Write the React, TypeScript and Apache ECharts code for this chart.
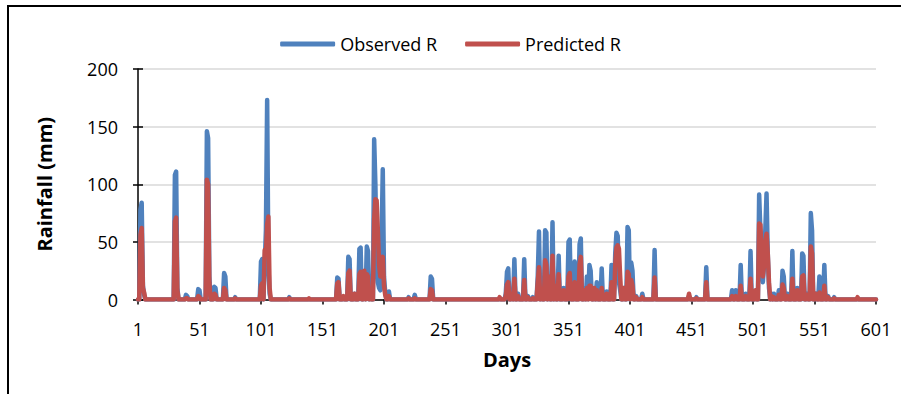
import React, { useEffect, useRef } from "react";
import * as echarts from "echarts";

const dayCount = 601;
const labelStep = 50;
const yMin = 0;
const yMax = 200;
const yStep = 50;
const seriesNames = ["Observed R", "Predicted R"];

// Days with non-zero rainfall (all other days are 0)
const eventDays = [
  3, 4, 5, 6, 31, 32, 33, 40, 41, 50, 51, 57, 58, 59, 63, 64, 71, 72, 80,
  101, 102, 104, 105, 106, 107, 108, 124, 140, 163, 164, 168, 172, 173, 177,
  181, 182, 185, 187, 188, 190, 193, 194, 195, 196, 197, 198, 199, 200, 201,
  202, 205, 221, 226, 239, 240, 295, 300, 301, 302, 305, 307, 310, 315, 318,
  322, 326, 327, 329, 332, 333, 335, 338, 340, 343, 347, 351, 352, 356, 360,
  361, 364, 366, 368, 369, 372, 374, 378, 382, 386, 389, 390, 391, 392, 393,
  396, 399, 400, 402, 403, 406, 411, 421, 449, 455, 463, 484, 487, 491, 495,
  499, 503, 506, 507, 508, 509, 510, 511, 512, 513, 514, 516, 518, 522, 525,
  526, 529, 533, 537, 541, 542, 545, 548, 549, 552, 555, 559, 562, 567, 586,
];
const observedAtEvents = [
  78, 84, 12, 4, 108, 111, 10, 4, 3, 9, 8, 146, 140, 20, 11, 10, 23, 20, 2,
  33, 35, 30, 60, 173, 30, 5, 2, 0, 19, 18, 2, 37, 35, 5,
  44, 45, 20, 46, 42, 5, 139, 100, 30, 15, 10, 8, 50, 113, 20,
  6, 7, 2, 4, 20, 18, 1, 5, 24, 27, 8, 35, 5, 35, 3,
  2, 20, 59, 5, 60, 58, 15, 67, 10, 38, 10, 50, 52, 33, 48,
  53, 10, 20, 30, 25, 8, 15, 27, 7, 30, 40, 58, 55, 15, 8,
  10, 63, 60, 32, 25, 3, 5, 43, 3, 2, 28, 8, 8, 30, 5,
  42, 5, 91, 60, 25, 15, 30, 60, 92, 40, 10, 5, 5, 8, 25,
  20, 5, 42, 10, 40, 38, 5, 75, 60, 5, 20, 30, 3, 2, 1,
];
const predictedAtEvents = [
  56, 62, 10, 6, 68, 71, 8, 1, 1, 3, 2, 104, 100, 15, 5, 4, 10, 8, 1,
  12, 14, 43, 40, 65, 72, 10, 1, 1, 14, 15, 3, 23, 25, 5,
  22, 24, 25, 22, 20, 6, 70, 87, 86, 60, 30, 20, 30, 37, 12,
  4, 3, 1, 1, 9, 8, 2, 3, 13, 15, 5, 18, 3, 17, 2,
  1, 15, 28, 8, 34, 30, 20, 38, 12, 22, 8, 20, 23, 15, 30,
  37, 8, 10, 12, 12, 10, 8, 10, 5, 15, 30, 45, 47, 44, 20,
  10, 24, 22, 17, 12, 2, 2, 19, 5, 1, 15, 3, 3, 12, 3,
  18, 8, 66, 65, 40, 20, 30, 50, 57, 40, 15, 3, 2, 4, 13,
  10, 3, 18, 8, 20, 21, 4, 46, 40, 5, 6, 12, 2, 1, 2,
];

const FONT = "'Open Sans', 'Noto Sans', sans-serif";

export default function App() {
  const ref = useRef<HTMLDivElement>(null);

  useEffect(() => {
    if (!ref.current) return;
    const chart = echarts.init(ref.current, null, { renderer: "svg" });

    const days = Array.from({ length: dayCount }, (_, i) => String(i + 1));
    const observed = new Array(dayCount).fill(0);
    const predicted = new Array(dayCount).fill(0);
    eventDays.forEach((d, i) => {
      observed[d - 1] = observedAtEvents[i];
      predicted[d - 1] = predictedAtEvents[i];
    });

    const axisColor = "#000";

    chart.setOption({
      animation: false,
      textStyle: { fontFamily: FONT },
      graphic: [
        {
          type: "rect",
          silent: true,
          z: -10,
          shape: { x: 8, y: 6, width: 1000, height: 1000 },
          style: { fill: "none", stroke: "#000", lineWidth: 2 },
        },
      ],
      legend: {
        data: seriesNames,
        top: 30,
        left: "center",
        itemWidth: 55,
        itemHeight: 5,
        itemGap: 28,
        icon: "roundRect",
        textStyle: { fontSize: 18, color: "#000", fontFamily: FONT },
      },
      grid: { left: 138, right: 25, top: 69, bottom: 94.5, containLabel: false },
      xAxis: {
        type: "category",
        data: days,
        boundaryGap: false,
        axisLine: { lineStyle: { color: axisColor, width: 1.5 } },
        axisTick: {
          interval: labelStep - 1,
          length: 5,
          lineStyle: { color: axisColor, width: 1.5 },
        },
        axisLabel: {
          interval: labelStep - 1,
          margin: 20,
          fontSize: 18,
          color: "#000",
          fontFamily: FONT,
        },
        name: "Days",
        nameLocation: "middle",
        nameGap: 50,
        nameTextStyle: { fontSize: 20, fontWeight: "bold", color: "#000", fontFamily: FONT },
      },
      yAxis: [
        {
          type: "value",
          min: yMin,
          max: yMax,
          interval: yStep,
          axisLine: { show: true, lineStyle: { color: axisColor, width: 1.5 } },
          axisTick: { show: true, length: 5, lineStyle: { color: axisColor, width: 1.5 } },
          axisLabel: { margin: 20, fontSize: 18, color: "#000", fontFamily: FONT },
          splitLine: { show: true, lineStyle: { color: "#d9d9d9", width: 1.5 } },
          name: "Rainfall (mm)",
          nameLocation: "middle",
          nameRotate: 90,
          nameGap: 84,
          nameTextStyle: { fontSize: 20, fontWeight: "bold", color: "#000", fontFamily: FONT },
        },
        {
          type: "value",
          min: yMin,
          max: yMax,
          interval: yStep,
          position: "left",
          axisLine: { show: false },
          axisTick: { show: true, inside: true, length: 5, lineStyle: { color: axisColor, width: 1.5 } },
          axisLabel: { show: false },
          splitLine: { show: false },
        },
      ],
      series: [
        {
          name: seriesNames[0],
          type: "line",
          data: observed,
          symbol: "none",
          showSymbol: false,
          itemStyle: { color: "#4F81BD" },
          lineStyle: { color: "#4F81BD", width: 4.5, cap: "round", join: "round" },
          z: 2,
        },
        {
          name: seriesNames[1],
          type: "line",
          data: predicted,
          symbol: "none",
          showSymbol: false,
          itemStyle: { color: "#C0504D" },
          lineStyle: { color: "#C0504D", width: 4.5, cap: "round", join: "round" },
          z: 3,
        },
      ],
    });

    return () => chart.dispose();
  }, []);

  return (
    <div
      ref={ref}
      style={{ position: "absolute", left: 0, top: 0, width: 901, height: 394 }}
    />
  );
}
